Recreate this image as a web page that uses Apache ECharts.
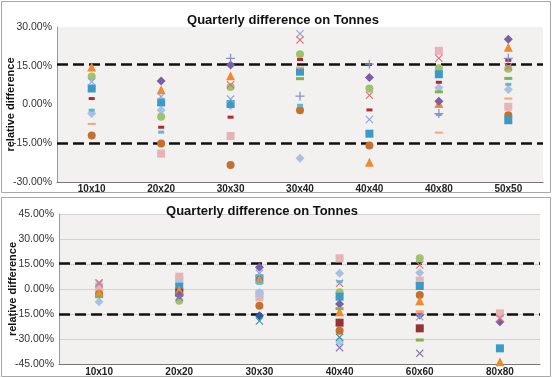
<!DOCTYPE html>
<html>
<head>
<meta charset="utf-8">
<script src="https://cdn.jsdelivr.net/npm/echarts@6/dist/echarts.min.js"></script>
<style>
  html, body { margin: 0; padding: 0; background: #fff; }
  #chart { width: 553px; height: 378px; }
</style>
</head>
<body>
<div id="chart"></div>
<script>
var titleText = 'Quarterly difference on Tonnes';
var yName = 'relative difference';

// top panel
var topCats = ['10x10', '20x20', '30x30', '30x40', '40x40', '40x80', '50x50'];
var topTicks = [-30, -15, 0, 15, 30];
var topPurpleDiamond = [null, 9.1, 15.3, null, 10.5, 1.3, 25.3];
var topOrangeTriangle = [14.5, 5.7, 11.1, null, -22.4, 0.4, 22.2];
var topGreenCircle = [10.8, -4.7, 6.8, 19.5, 6.2, 14, 13.8];
var topBlueX = [8.8, 3.1, 2.1, 27.4, -5.8, null, null];
var topRedX = [null, null, 7.6, 25, 3.6, 17.9, 14.6];
var topBlueSquare = [6.2, 0.8, 0.2, 12.7, -11.3, 11.7, -6.1];
var topPinkSquare = [null, -19, -12.2, null, null, 20.8, -0.9];
var topBrownCircle = [-12, -15.1, -23.4, -2.2, -15.9, null, -4.2];
var topLightDiamond = [-3.5, -2.2, -0.5, -20.8, null, 6.5, 5.8];
var topRedDash = [2.3, -8.8, -4.9, 17.4, -2.1, 8.6, 17.1];
var topOrangeDash = [-7.5, null, null, 14.3, null, -10.9, 2.3];
var topGreenDash = [null, null, null, 10, null, 4.9, 10.1];
var topCyanDash = [-2.2, -10.7, null, -0.3, null, -3.9, 7.8];
var topPlus = [null, null, 17.9, 3.2, 15.6, -3.5, 17.9];

// bottom panel
var botCats = ['10x10', '20x20', '30x30', '40x40', '60x60', '80x80'];
var botTicks = [-45, -30, -15, 0, 15, 30, 45];
var botPinkSquare = [1.4, 7.4, -3, 18.4, 5, -14.6];
var botPinkSquare2 = [-1, 5.4, -5, null, null, null];
var botPurpleDiamond = [null, -3.6, 13, -9, -15.6, -19.6];
var botOrangeTriangle = [-2.2, -0.6, 5.8, -13.6, -7, -43.6];
var botGreenCircle = [null, -7, null, -2, 18.4, null];
var botBlueX = [3, null, 9.4, null, -16.6, null];
var botRedX = [3.8, null, null, 3.4, 14.4, -17.6];
var botBlueSquare = [null, 1.4, 6.4, -4.6, 1.8, -35.6];
var botBrownCircle = [-3, null, -10, -25, -3.6, null];
var botLightDiamond = [-7.6, null, -2.2, 9.4, 9.8, null];
var botGreenDash = [-4.6, null, null, -11.8, -30.6, null];
var botCyanDash = [null, null, 3.4, 4.4, null, null];
var botOrangeDash = [null, null, null, null, -13.6, null];
var botDarkRedSquare = [null, -2.2, null, -20.2, -23.6, null];
var botNavyDiamond = [null, null, -16, null, null, null];
var botTealX = [null, null, -19.2, -29, null, null];
var botPurpleX = [null, -5, null, -35.2, -38.6, null];
var botLightCircle = [null, 3.4, -2.2, -31.6, null, null];

var limitLines = [15.5, -15];

var X_PATH = 'path://M0,1L1,0L5,4L9,0L10,1L6,5L10,9L9,10L5,6L1,10L0,9L4,5Z';
var PLUS_PATH = 'path://M4.3,0H5.7V4.3H10V5.7H5.7V10H4.3V5.7H0V4.3H4.3Z';

function mk(cats, vals, idx, symbol, size, color, extra) {
  var d = [];
  for (var i = 0; i < cats.length; i++) {
    if (vals[i] !== null) d.push([cats[i], vals[i]]);
  }
  var s = {
    type: 'scatter',
    xAxisIndex: idx,
    yAxisIndex: idx,
    data: d,
    symbol: symbol,
    symbolSize: size,
    itemStyle: { color: color, opacity: 1 },
    silent: true,
    z: 3
  };
  if (extra) s.markLine = extra;
  return s;
}

function dashLines() {
  return {
    silent: true,
    symbol: 'none',
    label: { show: false },
    lineStyle: { color: '#111', type: [11, 5], width: 2.6 },
    data: limitLines.map(function (v) { return { yAxis: v }; }),
    z: 2
  };
}

var series = [
  mk(topCats, topPinkSquare, 0, 'rect', 8, '#e6b3b7', dashLines()),
  mk(topCats, topBrownCircle, 0, 'circle', 8, '#c4712f'),
  mk(topCats, topLightDiamond, 0, 'diamond', 9, '#a9bfe4'),
  mk(topCats, topGreenCircle, 0, 'circle', 8, '#9dc36b'),
  mk(topCats, topBlueSquare, 0, 'rect', 8, '#3b9ac6'),
  mk(topCats, topOrangeTriangle, 0, 'triangle', 9, '#f08a30'),
  mk(topCats, topPurpleDiamond, 0, 'diamond', 9, '#7b5ea7'),
  mk(topCats, topBlueX, 0, X_PATH, 8, '#8fa4d6'),
  mk(topCats, topRedX, 0, X_PATH, 8, '#d9757d'),
  mk(topCats, topRedDash, 0, 'rect', [6, 3], '#b3292e'),
  mk(topCats, topOrangeDash, 0, 'rect', [8, 2], '#f5a57a'),
  mk(topCats, topGreenDash, 0, 'rect', [8, 3], '#83b14f'),
  mk(topCats, topCyanDash, 0, 'rect', [6, 3], '#5bb8d6'),
  mk(topCats, topPlus, 0, PLUS_PATH, 9, '#8a8fc9'),

  mk(botCats, botPinkSquare, 1, 'rect', 8, '#e6b3b7', dashLines()),
  mk(botCats, botPinkSquare2, 1, 'rect', 8, '#e6b3b7'),
  mk(botCats, botGreenCircle, 1, 'circle', 8, '#9dc36b'),
  mk(botCats, botBrownCircle, 1, 'circle', 8, '#c4712f'),
  mk(botCats, botLightCircle, 1, 'circle', 8, '#a8c8e6'),
  mk(botCats, botBlueSquare, 1, 'rect', 8, '#3b9ac6'),
  mk(botCats, botDarkRedSquare, 1, 'rect', 8, '#963233'),
  mk(botCats, botOrangeTriangle, 1, 'triangle', 9, '#f08a30'),
  mk(botCats, botLightDiamond, 1, 'diamond', 9, '#a9bfe4'),
  mk(botCats, botPurpleDiamond, 1, 'diamond', 9, '#7b5ea7'),
  mk(botCats, botNavyDiamond, 1, 'diamond', 9, '#31589a'),
  mk(botCats, botBlueX, 1, X_PATH, 8, '#8fa4d6'),
  mk(botCats, botRedX, 1, X_PATH, 8, '#d9757d'),
  mk(botCats, botTealX, 1, X_PATH, 8, '#3d93a8'),
  mk(botCats, botPurpleX, 1, X_PATH, 8, '#8673b2'),
  mk(botCats, botGreenDash, 1, 'rect', [8, 3], '#83b14f'),
  mk(botCats, botCyanDash, 1, 'rect', [6, 3], '#5bb8d6'),
  mk(botCats, botOrangeDash, 1, 'rect', [8, 3], '#f5a57a')
];

function yAxisOpt(idx, ticks, grid) {
  return {
    type: 'value',
    gridIndex: idx,
    min: ticks[0],
    max: ticks[ticks.length - 1],
    interval: 15,
    name: yName,
    nameLocation: 'middle',
    nameGap: 41,
    nameMoveOverlap: false,
    nameTextStyle: { fontFamily: 'Liberation Sans', fontWeight: 'bold', fontSize: 11, color: '#111' },
    axisLine: { show: true, lineStyle: { color: '#999', width: 1 } },
    axisTick: { show: false },
    axisLabel: {
      margin: 5,
      fontFamily: 'Liberation Sans',
      fontSize: 10.5,
      color: '#333',
      formatter: function (v) { return v.toFixed(2) + '%'; }
    },
    splitLine: { show: grid, lineStyle: { color: '#d2d2d2', width: 1 } }
  };
}

function xAxisOpt(idx, cats, margin) {
  return {
    type: 'category',
    gridIndex: idx,
    data: cats,
    boundaryGap: true,
    axisLine: { show: true, onZero: false, lineStyle: { color: '#777', width: 1 } },
    axisTick: { show: false },
    axisLabel: {
      margin: margin,
      fontFamily: 'Liberation Sans',
      fontWeight: 'bold',
      fontSize: 10,
      color: '#222'
    },
    splitLine: { show: false }
  };
}

var chart = echarts.init(document.getElementById('chart'));
chart.setOption({
  animation: false,
  backgroundColor: '#fff',
  title: [
    {
      text: titleText, left: 278, top: 9, textAlign: 'center',
      textStyle: { fontFamily: 'Liberation Sans', fontWeight: 'bold', fontSize: 13, color: '#111' }
    },
    {
      text: titleText, left: 257, top: 200, textAlign: 'center',
      textStyle: { fontFamily: 'Liberation Sans', fontWeight: 'bold', fontSize: 13, color: '#111' }
    }
  ],
  graphic: [
    { type: 'rect', shape: { x: 1.5, y: 1.5, width: 549, height: 191 }, style: { fill: null, stroke: '#a8a8a8', lineWidth: 1 }, z: 0 },
    { type: 'rect', shape: { x: 1.5, y: 197.5, width: 549, height: 179 }, style: { fill: null, stroke: '#a8a8a8', lineWidth: 1 }, z: 0 }
  ],
  grid: [
    { left: 57, top: 27, width: 486, height: 155, show: true, backgroundColor: '#f2f1f0', borderWidth: 0, outerBoundsMode: 'none' },
    { left: 59, top: 214, width: 481, height: 150, show: true, backgroundColor: '#f2f1f0', borderWidth: 0, outerBoundsMode: 'none' }
  ],
  xAxis: [xAxisOpt(0, topCats, 2), xAxisOpt(1, botCats, 3)],
  yAxis: [yAxisOpt(0, topTicks, false), yAxisOpt(1, botTicks, true)],
  series: series
});
</script>
</body>
</html>
